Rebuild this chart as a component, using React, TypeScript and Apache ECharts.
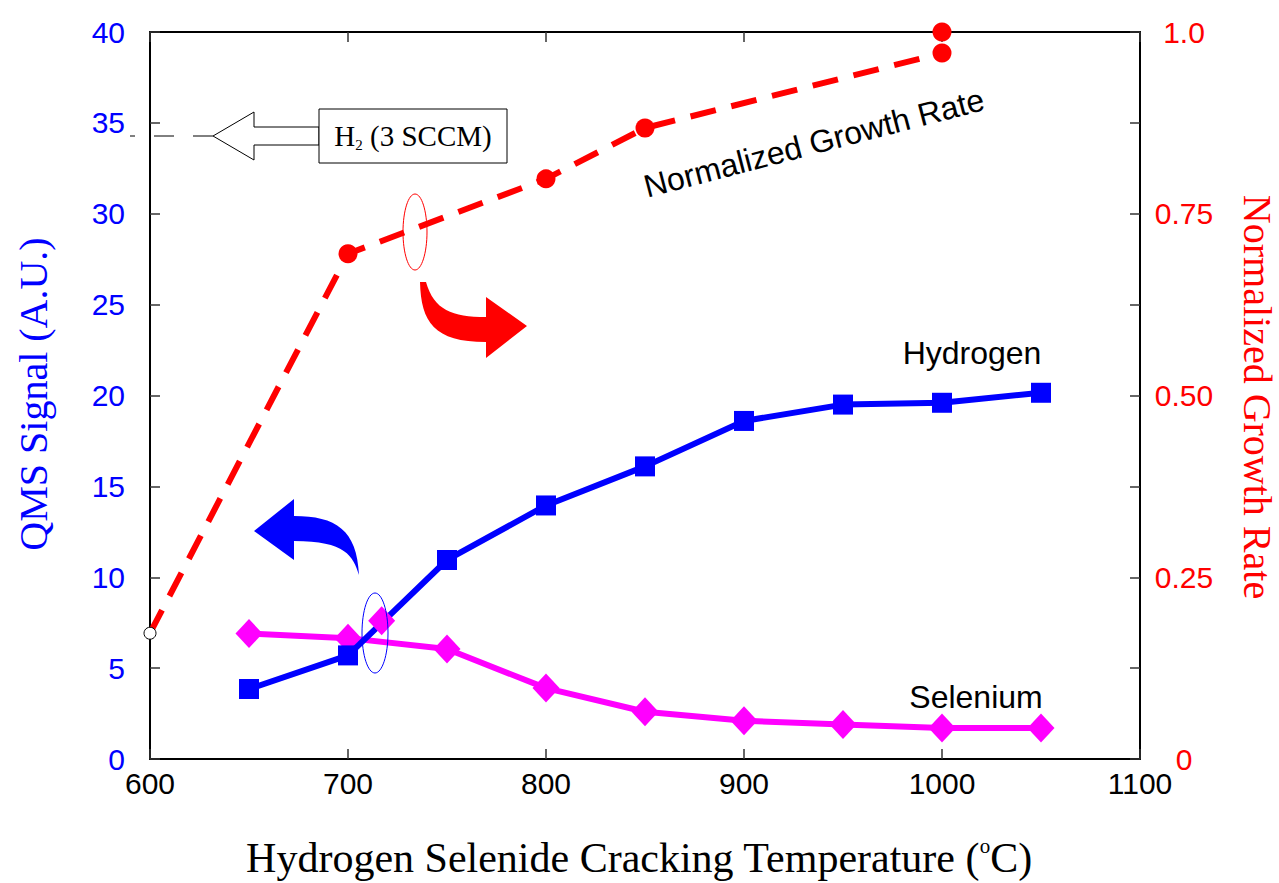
import React, { useEffect, useRef } from "react";
import * as echarts from "echarts";

const temperatures = [650, 700, 750, 800, 850, 900, 950, 1000, 1050];
const hydrogen = [3.85, 5.7, 10.95, 13.95, 16.1, 18.6, 19.5, 19.6, 20.15];
const selenium = [6.9, 6.65, 6.05, 3.9, 2.6, 2.1, 1.9, 1.7, 1.7];
const seleniumExtra: [number, number][] = [[717, 7.6]];
const growthTemps = [600, 700, 800, 850, 1000];
const growthRate = [0.173, 0.695, 0.798, 0.868, 0.971];
const growthExtra: [number, number][] = [[1000, 1.0]];
const leftTicks = [0, 5, 10, 15, 20, 25, 30, 35, 40];
const rightLabels: Record<string, string> = { "0": "0", "0.25": "0.25", "0.5": "0.50", "0.75": "0.75", "1": "1.0" };

const SANS = "Liberation Sans, Arial, sans-serif";
const SERIF = "Liberation Serif, Times New Roman, serif";

const redArrowPath =
  "M420,282 C421,322 434,342 486,342 L486,358 L527,326 L486,297 L486,317 C452,317 434,310 426,282 Z";
const blueArrowPath =
  "M254,531 L294,499 L294,516 C336,516 357,530 359,575 C353,556 346,541 294,541 L294,560 Z";

let registered = false;
function registerShapes() {
  if (registered) return;
  echarts.graphic.registerShape("redArrow", (echarts.graphic as any).extendPath(redArrowPath, {}));
  echarts.graphic.registerShape("blueArrow", (echarts.graphic as any).extendPath(blueArrowPath, {}));
  registered = true;
}

export default function App() {
  const ref = useRef<HTMLDivElement>(null);
  useEffect(() => {
    document.body.style.margin = "0";
    registerShapes();
    const chart = echarts.init(ref.current!, null, { renderer: "svg" });
    const growthData = growthTemps.map((t, i) =>
      i === 0
        ? {
            value: [t, growthRate[i]],
            symbol: "circle",
            symbolSize: 12,
            itemStyle: { color: "#ffffff", borderColor: "#000000", borderWidth: 1 },
          }
        : { value: [t, growthRate[i]] }
    );
    const axisTick = { show: true, inside: true, length: 10, lineStyle: { color: "#333", width: 1.5 } };
    const axisLine = { show: true, onZero: false, lineStyle: { color: "#000", width: 2 } };
    chart.setOption({
      animation: false,
      backgroundColor: "#ffffff",
      grid: { left: 150, right: 139, top: 32, bottom: 124 },
      xAxis: [
        {
          type: "value",
          min: 600,
          max: 1100,
          interval: 100,
          position: "bottom",
          axisLine,
          axisTick,
          splitLine: { show: false },
          axisLabel: {
            fontFamily: SANS,
            fontSize: 30,
            color: "#000",
            margin: 9,
            formatter: (v: number) => String(v),
          },
        },
        {
          type: "value",
          min: 600,
          max: 1100,
          interval: 100,
          position: "top",
          axisLine,
          axisTick,
          splitLine: { show: false },
          axisLabel: { show: false },
        },
      ],
      yAxis: [
        {
          type: "value",
          min: leftTicks[0],
          max: leftTicks[leftTicks.length - 1],
          interval: 5,
          position: "left",
          axisLine,
          axisTick,
          splitLine: { show: false },
          axisLabel: { fontFamily: SANS, fontSize: 30, color: "#0000ff", margin: 25 },
        },
        {
          type: "value",
          min: 0,
          max: 1,
          interval: 0.125,
          position: "right",
          axisLine,
          axisTick,
          splitLine: { show: false },
          axisLabel: {
            fontFamily: SANS,
            fontSize: 30,
            color: "#ff0000",
            margin: 44,
            align: "center",
            formatter: (v: number) => rightLabels[String(Math.round(v * 1000) / 1000)] ?? "",
          },
        },
      ],
      series: [
        {
          name: "Normalized Growth Rate",
          type: "line",
          xAxisIndex: 0,
          yAxisIndex: 1,
          data: growthData,
          symbol: "circle",
          symbolSize: 19,
          itemStyle: { color: "#ff0000", opacity: 1 },
          lineStyle: { color: "#ff0000", width: 6, type: [26, 16] },
          z: 3,
        },
        {
          name: "Growth extra",
          type: "scatter",
          xAxisIndex: 0,
          yAxisIndex: 1,
          data: growthExtra,
          symbol: "circle",
          symbolSize: 19,
          itemStyle: { color: "#ff0000", opacity: 1 },
          z: 3,
        },
        {
          name: "Selenium",
          type: "line",
          xAxisIndex: 0,
          yAxisIndex: 0,
          data: temperatures.map((t, i) => [t, selenium[i]]),
          symbol: "diamond",
          symbolSize: [27, 29],
          itemStyle: { color: "#ff00ff", opacity: 1 },
          lineStyle: { color: "#ff00ff", width: 6 },
          z: 4,
        },
        {
          name: "Hydrogen",
          type: "line",
          xAxisIndex: 0,
          yAxisIndex: 0,
          data: temperatures.map((t, i) => [t, hydrogen[i]]),
          symbol: "rect",
          symbolSize: 20,
          itemStyle: { color: "#0000ff", opacity: 1 },
          lineStyle: { color: "#0000ff", width: 6 },
          z: 5,
        },
        {
          name: "Selenium extra",
          type: "scatter",
          xAxisIndex: 0,
          yAxisIndex: 0,
          data: seleniumExtra,
          symbol: "diamond",
          symbolSize: [27, 29],
          itemStyle: { color: "#ff00ff", opacity: 1 },
          z: 6,
        },
      ],
      graphic: [
        {
          type: "line",
          shape: { x1: 213, y1: 136, x2: 130, y2: 136 },
          style: { stroke: "#000", lineWidth: 1, lineDash: [20, 19] },
          z: 10,
        },
        {
          type: "polygon",
          shape: {
            points: [
              [213, 136],
              [254, 112],
              [254, 127],
              [319, 127],
              [319, 145],
              [254, 145],
              [254, 160],
            ],
          },
          style: { fill: "#ffffff", stroke: "#000", lineWidth: 1 },
          z: 10,
        },
        {
          type: "rect",
          shape: { x: 319, y: 109, width: 188, height: 54 },
          style: { fill: "#ffffff", stroke: "#000", lineWidth: 1 },
          z: 10,
        },
        {
          type: "text",
          x: 413,
          y: 136,
          style: {
            text: "{h|H}{s|2}{h| (3 SCCM)}",
            align: "center",
            verticalAlign: "middle",
            rich: {
              h: { fontFamily: SERIF, fontSize: 29, color: "#000", lineHeight: 32 },
              s: { fontFamily: SERIF, fontSize: 15, color: "#000", verticalAlign: "bottom", lineHeight: 32 },
            },
          },
          z: 11,
        },
        {
          type: "ellipse",
          shape: { cx: 415, cy: 232, rx: 12, ry: 38 },
          style: { fill: "none", stroke: "#ff0000", lineWidth: 1 },
          z: 10,
        },
        {
          type: "ellipse",
          shape: { cx: 375, cy: 633, rx: 13, ry: 40 },
          style: { fill: "none", stroke: "#0000ff", lineWidth: 1 },
          z: 10,
        },
        { type: "redArrow", x: 0, y: 0, style: { fill: "#ff0000" }, z: 10 },
        { type: "blueArrow", x: 0, y: 0, style: { fill: "#0000ff" }, z: 10 },
        {
          type: "text",
          x: 814,
          y: 143,
          rotation: (14.6 * Math.PI) / 180,
          style: {
            text: "Normalized Growth Rate",
            fontFamily: SANS,
            fontSize: 32,
            fill: "#000",
            align: "center",
            verticalAlign: "middle",
          },
          z: 10,
        },
        {
          type: "text",
          x: 972,
          y: 353,
          style: { text: "Hydrogen", fontFamily: SANS, fontSize: 32, fill: "#000", align: "center", verticalAlign: "middle" },
          z: 10,
        },
        {
          type: "text",
          x: 976,
          y: 697,
          style: { text: "Selenium", fontFamily: SANS, fontSize: 32, fill: "#000", align: "center", verticalAlign: "middle" },
          z: 10,
        },
        {
          type: "text",
          x: 33,
          y: 394,
          rotation: Math.PI / 2,
          style: {
            text: "QMS Signal (A.U.)",
            fontFamily: SERIF,
            fontSize: 40,
            fill: "#0000ff",
            align: "center",
            verticalAlign: "middle",
          },
          z: 10,
        },
        {
          type: "text",
          x: 1257,
          y: 397,
          rotation: -Math.PI / 2,
          style: {
            text: "Normalized Growth Rate",
            fontFamily: SERIF,
            fontSize: 40,
            fill: "#ff0000",
            align: "center",
            verticalAlign: "middle",
          },
          z: 10,
        },
        {
          type: "text",
          x: 639,
          y: 858,
          style: {
            text: "{a|Hydrogen Selenide Cracking Temperature (}{s|o}{a|C)}",
            align: "center",
            verticalAlign: "middle",
            rich: {
              a: { fontFamily: SERIF, fontSize: 42, color: "#000", lineHeight: 46 },
              s: { fontFamily: SERIF, fontSize: 21, color: "#000", verticalAlign: "top", lineHeight: 46 },
            },
          },
          z: 10,
        },
      ],
    });
    return () => chart.dispose();
  }, []);
  return <div ref={ref} style={{ width: 1279, height: 883 }} />;
}
